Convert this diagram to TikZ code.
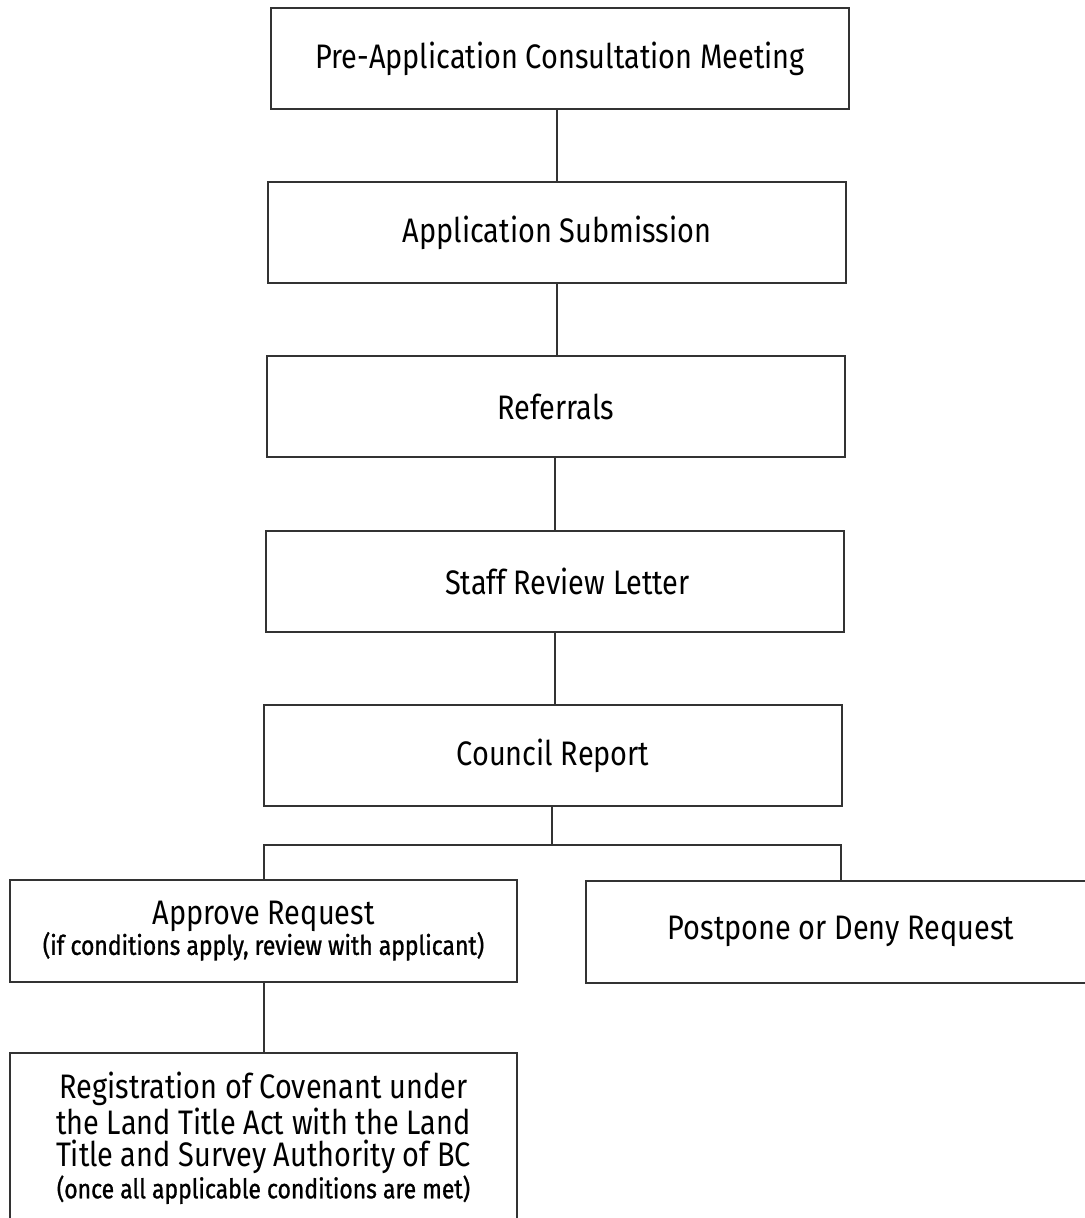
\documentclass[tikz,border=0pt]{standalone}
\usepackage{fontspec}
\usepackage{tikz}
\usepackage{xcolor}
\setmainfont{Fira Sans}[FakeStretch=0.85]
\newfontfamily\notefont{Fira Sans}[FakeStretch=0.85, FakeBold=1]

\definecolor{edge}{HTML}{333333}

\tikzset{
  stepbox/.style={draw=edge, line width=1pt, align=center, font=\fontsize{17}{16}\selectfont,
    minimum width=289pt, minimum height=50.5pt, inner sep=0pt},
  halfbox/.style={stepbox, minimum width=253.5pt, minimum height=51pt},
  link/.style={draw=edge, line width=1pt}
}
\newcommand{\subnote}[1]{{\notefont\fontsize{13.5}{14}\selectfont #1}}

\begin{document}
\begin{tikzpicture}[x=0.5pt, y=-0.5pt]
    \useasboundingbox (0,0) rectangle (1084,1218);

    % main sequence
    \node[stepbox] (pre)     at (560, 59)    {Pre-Application Consultation Meeting};
    \node[stepbox] (sub)     at (557, 233)   {Application Submission};
    \node[stepbox] (ref)     at (556, 407)   {Referrals};
    \node[stepbox] (staff)   at (554.5, 581.5) {\hspace*{13pt}Staff Review Letter};
    \node[stepbox] (council) at (553, 755.5) {Council Report};

    % decision
    \node[halfbox] (approve)  at (263.5, 931) {Approve Request\\[-1pt]
        \subnote{(if conditions apply, review with applicant)}};
    \node[halfbox, minimum width=255pt] (postpone) at (841, 931.5) {Postpone or Deny Request};

    % final step (runs off the bottom)
    \node[halfbox, minimum height=85pt] (reg) at (263.5, 1138)
        {Registration of Covenant under\\the Land Title Act with the Land\\Title and Survey Authority of BC\\
        \subnote{(once all applicable conditions are met)}};

    % connectors
    \draw[link] (pre.south -| sub.north) -- (sub.north);
    \draw[link] (sub.south) -- (sub.south |- ref.north);
    \draw[link] (ref.south -| staff.north) -- (staff.north);
    \draw[link] (staff.south) -- (staff.south |- council.north);

    \coordinate (split) at (552, 845);
    \draw[link] (council.south -| split) -- (split);
    \draw[link] (approve.north) |- (split) -| (postpone.north);
    \draw[link] (approve.south) -- (reg.north);
\end{tikzpicture}
\end{document}
